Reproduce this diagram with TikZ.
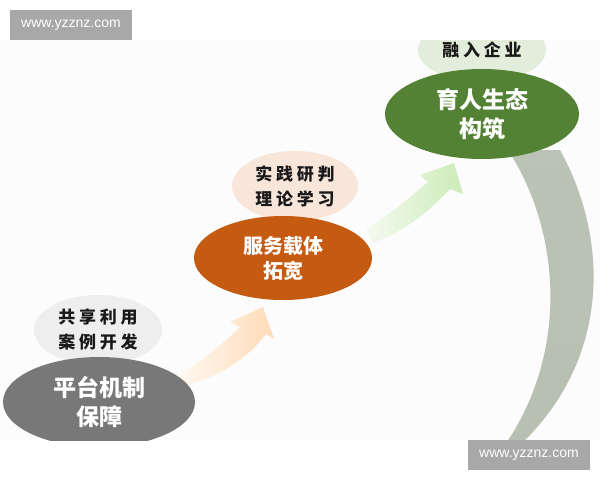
\documentclass[tikz,border=0pt]{standalone}
\usepackage{fontspec}
\setmainfont{Liberation Sans}
\newfontfamily\cjk{Noto Sans CJK SC}
\newfontfamily\cjkw{Noto Sans CJK SC}[LetterSpace=22]
\usetikzlibrary{shapes.geometric}

\definecolor{hubgray}{HTML}{787878}
\definecolor{hubora}{HTML}{C55A11}
\definecolor{hubgreen}{HTML}{548235}
\definecolor{bubgray}{HTML}{EEEEEE}
\definecolor{bubora}{HTML}{F9E6DB}
\definecolor{bubgreen}{HTML}{E2EEDB}
\definecolor{loopgray}{HTML}{B3BCAD}
\definecolor{paper}{HTML}{FCFCFC}

\begin{document}
\begin{tikzpicture}[x=1pt, y=-1pt]
            \tikzstyle{hub} = [ellipse, inner sep=0pt, text=white, align=center, font=\cjk\bfseries\fontsize{23}{29}\selectfont]
            \tikzstyle{bubble} = [ellipse, inner sep=0pt, text=black!90, align=center, font=\cjkw\bfseries\fontsize{17}{25}\selectfont]
            \tikzstyle{wmark} = [fill=black!34, text=white, minimum width=122, minimum height=30, inner sep=0pt, font=\fontsize{14}{14}\selectfont]

            \useasboundingbox (0,0) rectangle (600,480);
            \fill[paper] (0,40) rectangle (600,440);

            \begin{scope}
              \clip (0,40) rectangle (600,440);

              % big loop back
              \shade[top color=loopgray!90, bottom color=loopgray!95] (560,150) .. controls (610,240) and (610,360) .. (520,445)
                -- (505,445) .. controls (570,350) and (560,230) .. (508,150) -- cycle;

              % step arrows
              \shade[left color=orange!6, right color=orange!28!white] (180,374) .. controls (200,362) and (222,345) .. (240,327)
                -- (230,322) -- (263,307) -- (274,339) -- (266,334) .. controls (250,355) and (225,375) .. (183,386) -- cycle;
              \shade[left color=green!35!olive!6, right color=green!45!olive!28] (366,228) .. controls (390,215) and (410,197) .. (428,182)
                -- (420,175) -- (454,163) -- (463,194) -- (450,189) .. controls (430,210) and (405,232) .. (372,243) -- cycle;

              \node[bubble, fill=bubgray, minimum width=128, minimum height=70] (0) at (98, 330) {共享利用\\案例开发};
              \node[bubble, fill=bubora, minimum width=126, minimum height=70] (1) at (295, 186) {实践研判\\理论学习};
              \node[bubble, fill=bubgreen, minimum width=128, minimum height=64] (2) at (482, 50) {融入企业};

              \node[hub, fill=hubgray, minimum width=192, minimum height=90] (3) at (99, 402) {平台机制\\保障};
              \node[hub, fill=hubora, minimum width=178, minimum height=84, font=\cjk\bfseries\fontsize{20}{25}\selectfont] (4) at (283, 258) {服务载体\\拓宽};
              \node[hub, fill=hubgreen, minimum width=194, minimum height=90] (5) at (482, 114) {育人生态\\构筑};
            \end{scope}

            \node[wmark] (6) at (71, 25) {www.yzznz.com};
            \node[wmark] (7) at (529, 455) {www.yzznz.com};
          \end{tikzpicture}
\end{document}
